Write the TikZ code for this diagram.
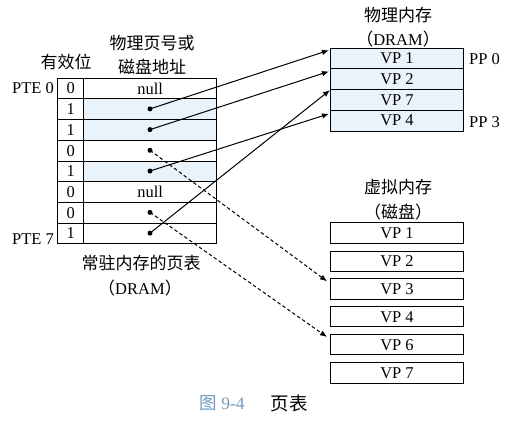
\documentclass[tikz,border=0pt]{standalone}
\usepackage{fontspec}
\setmainfont{Liberation Serif}
\newfontfamily\cjk{Noto Sans CJK SC}
\newcommand{\zh}[1]{{\cjk\fontsize{17}{19}\selectfont #1}}
\usetikzlibrary{calc,arrows.meta}
\definecolor{cellblue}{HTML}{EAF2FA}
\definecolor{capblue}{HTML}{6F9CC0}
\tikzset{
  cell/.style={draw, line width=1pt, inner sep=0pt, anchor=north west, minimum height=20.7pt},
  vcell/.style={cell, minimum width=26pt},
  acell/.style={cell, minimum width=132.7pt},
  pmcell/.style={cell, fill=cellblue, minimum width=133pt},
  vmcell/.style={cell, minimum width=133pt, minimum height=20.4pt},
  ptdot/.style={circle, fill, inner sep=0pt, minimum size=5pt},
  ptr/.style={line width=1pt, -{Latex[length=7pt,width=5.5pt]}},
  dptr/.style={ptr, dash pattern=on 3.5pt off 2.5pt},
  lbl/.style={inner sep=0pt},
}
\begin{document}
\begin{tikzpicture}[x=1pt, y=-1pt, font=\fontsize{16.5}{18}\selectfont]
\fill[white] (0,0) rectangle (514,421);
\useasboundingbox (0,0) rectangle (514,421);

% headers
\node[lbl] (hv) at (66,62) {\zh{有效位}};
\node[lbl] (ha1) at (152,43) {\zh{物理页号或}};
\node[lbl] (ha2) at (152,67) {\zh{磁盘地址}};

% page table
\foreach \i/\v/\f in {0/0/white,1/1/cellblue,2/1/cellblue,3/0/white,4/1/cellblue,5/0/white,6/0/white,7/1/white}{
  \node[vcell] (v\i) at (57.3,{77.7+20.7*\i}) {\v};
  \node[acell, fill=\f] (a\i) at (83.3,{77.7+20.7*\i}) {};
}
\node[lbl] (n0) at (a0.center) {null};
\node[lbl] (n5) at (a5.center) {null};
\foreach \i in {1,2,3,4,6,7}{
  \node[ptdot] (d\i) at (150,{88.2+20.7*\i}) {};
}
\node[lbl, anchor=east] (pte0) at (54,88) {PTE 0};
\node[lbl, anchor=east] (pte7) at (54,239) {PTE 7};
\node[lbl] (pt1) at (141,263) {\zh{常驻内存的页表}};
\node[lbl] (pt2) at (140,288) {\zh{（}DRAM\zh{）}};

% physical memory
\node[lbl] (pmh1) at (398,15) {\zh{物理内存}};
\node[lbl] (pmh2) at (398,39) {\zh{（}DRAM\zh{）}};
\foreach \i/\t in {0/VP 1,1/VP 2,2/VP 7,3/VP 4}{
  \node[pmcell] (pm\i) at (330,{47.7+20.7*\i}) {\t};
}
\node[lbl, anchor=west] (pp0) at (469,59) {PP 0};
\node[lbl, anchor=west] (pp3) at (469,122) {PP 3};

% virtual memory
\node[lbl] (vmh1) at (398,187) {\zh{虚拟内存}};
\node[lbl] (vmh2) at (398,212) {\zh{（磁盘）}};
\foreach \i/\y in {1/222.3,2/250.7,3/278.3,4/306,6/334,7/362.3}{
  \node[vmcell] (vm\i) at (330,\y) {VP \i};
}

% pointers
\draw[ptr] (d1.center) -- ($(pm0.north west)+(-1,2.5)$);
\draw[ptr] (d2.center) -- ($(pm1.north west)+(-1,3)$);
\draw[ptr] (d7.center) -- ($(pm2.north west)+(0,1)$);
\draw[ptr] (d4.center) -- ($(pm3.north west)+(-1,4)$);
\draw[dptr] (d3.center) -- ($(vm3.north west)+(-3,3)$);
\draw[dptr] (d6.center) -- ($(vm6.north west)+(-3,3)$);

% caption
\node[lbl, text=capblue, font=\fontsize{17.5}{19}\selectfont] (cap1) at (222,403) {{\cjk 图} 9-4};
\node[lbl] (cap2) at (289,403) {{\cjk\fontsize{18.5}{20}\selectfont 页表}};
\end{tikzpicture}
\end{document}
